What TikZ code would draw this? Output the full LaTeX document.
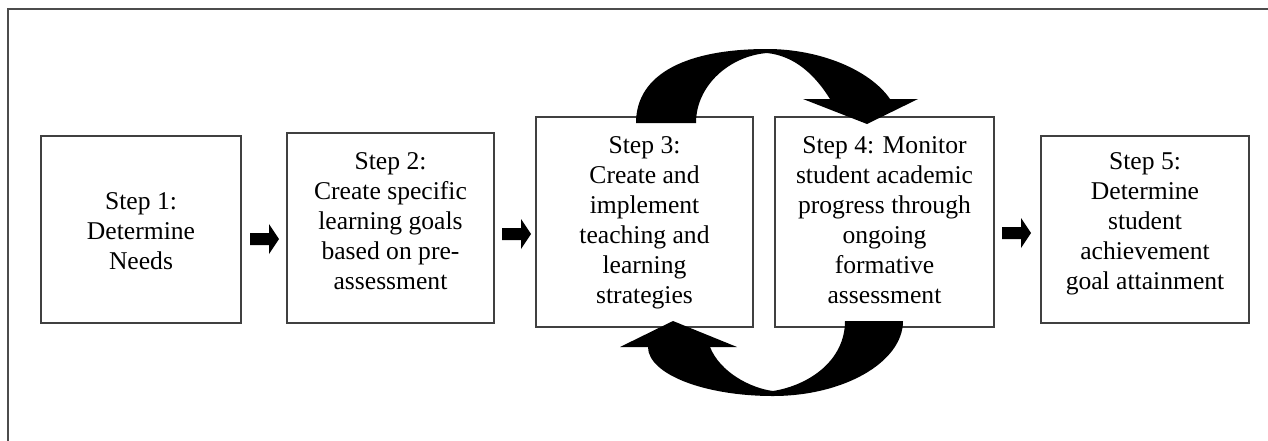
\documentclass[tikz,border=0pt]{standalone}
\usepackage{fontspec}
\setmainfont{Liberation Serif}
\usetikzlibrary{fit}
\begin{document}
\begin{tikzpicture}[x=0.5pt,y=-0.5pt,
  stepbox/.style={draw=black!75, line width=0.55pt, inner sep=0pt, rectangle},
  steptext/.style={anchor=north, align=center, inner sep=0pt, font=\fontsize{12.8}{15}\selectfont},
  frameline/.style={draw=black!70, line width=0.6pt},
  blockarrow/.pic={\fill[black] (0,-6) -- (19,-6) -- (19,-15) -- (29,0) -- (19,15) -- (19,6) -- (0,6) -- cycle;}]
\useasboundingbox (0,0) rectangle (1268,440);
\clip (0,0) rectangle (1268,440);
\draw[frameline] (8,460) -- (8,9) -- (1290,9);

% boxes
\node[stepbox, fit={(41,136) (241,323)}] (b1) {};
\node[stepbox, fit={(287,133) (494,323)}] (b2) {};
\node[stepbox, fit={(536,117) (753,327)}] (b3) {};
\node[stepbox, fit={(775,117) (994,327)}] (b4) {};
\node[stepbox, fit={(1041,136) (1249,323)}] (b5) {};

% texts
\node[steptext] (t1) at (141,192) {Step 1:\\Determine\\Needs};
\node[steptext] (t2) at (390.5,152) {Step 2:\\Create specific\\learning goals\\based on pre-\\assessment};
\node[steptext] (t3) at (644.5,136) {Step 3:\\Create and\\implement\\teaching and\\learning\\strategies};
\node[steptext] (t4) at (884.5,136) {Step 4: Monitor\\student academic\\progress through\\ongoing\\formative\\assessment};
\node[steptext] (t5) at (1145,152) {Step 5:\\Determine\\student\\achievement\\goal attainment};

% block arrows
\pic (a1) at (250,239) {blockarrow};
\pic (a2) at (502,234) {blockarrow};
\pic (a3) at (1002,233) {blockarrow};

% curved arrow from step 3 to step 4 (top)
\fill[black] (636,123) .. controls (636,72) and (690,49) .. (767,49)
  .. controls (820,49) and (870,70) .. (890,99)
  -- (918,99) -- (867,124) -- (803,99) -- (830,99)
  .. controls (815,75) and (795,56) .. (767,53)
  .. controls (730,56) and (696,85) .. (696,123) -- cycle;

% curved arrow from step 4 to step 3 (bottom)
\fill[black] (903,321) .. controls (903,362) and (844,396) .. (773,396)
  .. controls (704,396) and (648,374) .. (648,347)
  -- (620,347) -- (673,321) -- (737,347) -- (710,347)
  .. controls (720,372) and (750,388) .. (773,391)
  .. controls (810,385) and (845,360) .. (845,321) -- cycle;
\end{tikzpicture}
\end{document}
